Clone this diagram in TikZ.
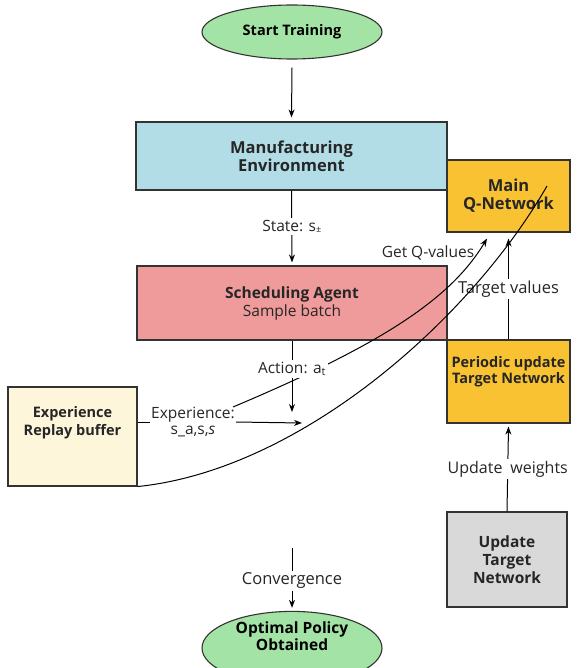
\documentclass[tikz,border=0pt]{standalone}
\usepackage{fontspec}
\setmainfont{Open Sans}
\usetikzlibrary{shapes.geometric,arrows.meta}
\definecolor{greenfill}{HTML}{A3E4A6}
\definecolor{envfill}{HTML}{B2DCE6}
\definecolor{agentfill}{HTML}{F09B9B}
\definecolor{netfill}{HTML}{F9C232}
\definecolor{grayfill}{HTML}{D9D9D9}
\definecolor{replayfill}{HTML}{FEF6DA}
\definecolor{edgegray}{HTML}{333333}
\begin{document}
\begin{tikzpicture}[x=1pt,y=-1pt,
  box/.style={draw=edgegray,line width=1.1pt,rectangle,align=center,font=\bfseries,text=black!85},
  oval/.style={draw=edgegray,line width=1.1pt,ellipse,fill=greenfill,align=center,font=\bfseries\fontsize{14.5}{16}\selectfont,inner sep=0pt},
  arr/.style={-{Stealth[length=8pt,width=6pt]},line width=1pt,black},
  ln/.style={line width=1pt,black},
  lab/.style={fill=white,inner sep=2pt,font=\fontsize{15.5}{17}\selectfont,text=black!85,align=center}]
\useasboundingbox (0,0) rectangle (576,668);
% nodes
\node[oval,minimum width=180pt,minimum height=54pt] (start) at (292,32) {Start Training};
\node[box,fill=envfill,minimum width=311pt,minimum height=68pt,font=\bfseries\fontsize{16.5}{18}\selectfont] (env) at (291.5,156) {Manufacturing\\Environment};
\node[box,fill=agentfill,minimum width=310pt,minimum height=74pt,font=\fontsize{15.5}{18}\selectfont] (agent) at (292,303) {\textbf{Scheduling Agent}\\Sample batch};
\node[box,fill=netfill,minimum width=123pt,minimum height=72pt,font=\bfseries\fontsize{16.5}{18}\selectfont] (mainq) at (508.5,196) {Main\\Q-Network};
\node[box,fill=netfill,minimum width=123pt,minimum height=83pt,font=\bfseries\fontsize{14.5}{18}\selectfont] (periodic) at (508.5,381.5) {Periodic update\\[-2pt]Target Network\\[5pt]\mbox{}};
\node[box,fill=grayfill,minimum width=120pt,minimum height=95pt,font=\bfseries\fontsize{15.5}{18}\selectfont] (update) at (507,559.5) {Update\\Target\\Network};
\node[box,fill=replayfill,minimum width=129pt,minimum height=99pt] (replay) at (72.5,436.5) {};
\node[font=\bfseries\fontsize{14.5}{18}\selectfont,align=center,text=black!85] (replaytxt) at (72.5,423) {Experience\\Replay buffer};
\node[oval,minimum width=180pt,minimum height=56pt,font=\bfseries\fontsize{15.5}{17}\selectfont] (optimal) at (292,648) {Optimal Policy\\Obtained\\[6pt]\mbox{}};
% coordinates
\coordinate (actend) at (292,412);
\coordinate (expend) at (302,423);
\coordinate (qstart) at (233,407);
\coordinate (convstart) at (292,548);
\coordinate (curveend) at (547,186);
% straight connectors
\draw[arr] ([yshift=-8pt]start.south) -- ([yshift=4pt]env.north);
\draw[arr] (env.south) -- node[lab] (statel) {State: s\raisebox{-1.5pt}{\small ±}} ([yshift=3pt]agent.north);
\draw[arr] (periodic.north) -- node[lab,pos=0.5,font=\fontsize{16.5}{18}\selectfont] (targetl) {Target values} ([yshift=-6pt]mainq.south);
\draw[arr] (update.north) -- node[lab,pos=0.5,font=\fontsize{16}{18}\selectfont] (updatel) {Update\,\,\,weights} ([yshift=-3pt]periodic.south);
\node[lab,inner sep=1pt] (expl) at (193,422) {Experience:\\s\_a,s,\textit{s}};
\draw[ln] (replay.east |- expl) -- (expl.west);
\draw[arr] (expl.east) -- (expend);
% curves
\draw[arr] (qstart) .. controls (380,345) and (450,300) .. ([yshift=-6pt]mainq.south -| 487,0);
\draw[ln] (replay.south east) .. controls (300,470) and (470,320) .. (curveend);
\node[font=\fontsize{15.5}{17}\selectfont,text=black!85] (getq) at (428,253) {Get Q-values};
% action edge over curve
\draw[arr] (agent.south) -- node[lab,pos=0.4] (actl) {Action: a\textsubscript{t}} (actend);
% convergence
\node[lab,font=\fontsize{16.5}{18}\selectfont] (convl) at (292,581) {Convergence};
\draw[ln] (convstart) -- (convl.north);
\draw[arr] (convl.south) -- ([yshift=3pt]optimal.north);
\end{tikzpicture}
\end{document}
